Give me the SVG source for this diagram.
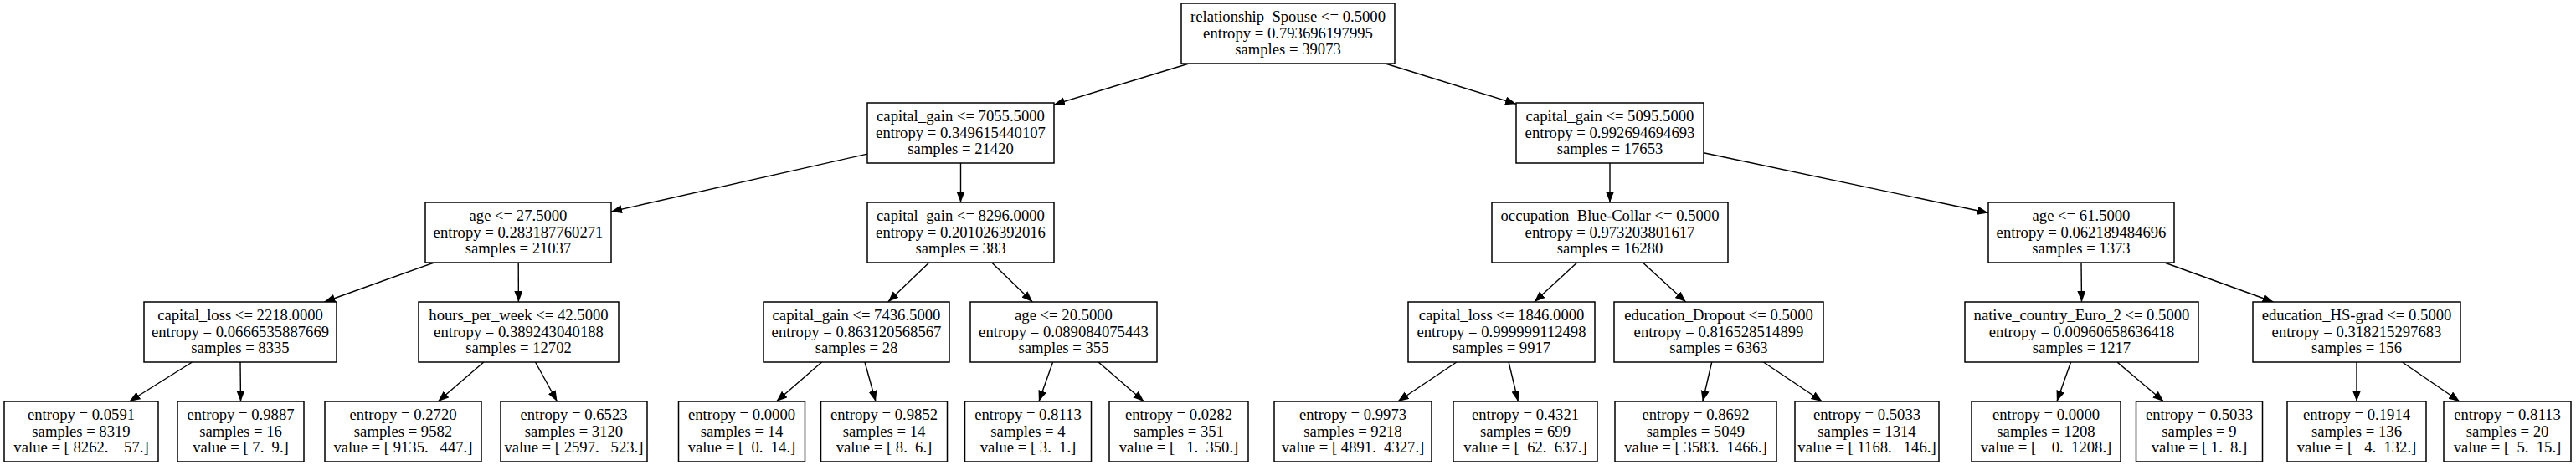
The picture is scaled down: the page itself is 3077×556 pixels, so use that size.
<svg xmlns="http://www.w3.org/2000/svg" width="3077" height="556" viewBox="0 0 3077 556">
<style>
.node rect{fill:#fff;stroke:#000;stroke-width:1.5}
.node text{font-family:"Liberation Serif","Times New Roman",serif;font-size:18.67px;fill:#000;text-anchor:middle;white-space:pre}
#edges line{stroke:#000;stroke-width:1.4;marker-end:url(#arr)}
</style>
<defs>
<marker id="arr" markerUnits="userSpaceOnUse" markerWidth="14" markerHeight="11" refX="13" refY="5" orient="auto">
<path d="M0,0 L13,5 L0,10 z" fill="#000"/>
</marker>
</defs>
<rect width="3077" height="556" fill="#fff"/>
<g id="edges">
<line x1="1420.2" y1="76" x2="1259" y2="125.1"/>
<line x1="1654.8" y1="76" x2="1811" y2="124.3"/>
<line x1="1036" y1="184.1" x2="730" y2="253"/>
<line x1="1147.5" y1="195" x2="1147.5" y2="242"/>
<line x1="1923" y1="195" x2="1923" y2="242"/>
<line x1="2035" y1="182.7" x2="2375" y2="254.5"/>
<line x1="518.6" y1="314" x2="387.4" y2="361"/>
<line x1="619.2" y1="314" x2="619.4" y2="361"/>
<line x1="1109.8" y1="314" x2="1060.7" y2="361"/>
<line x1="1184.7" y1="314" x2="1233.3" y2="361"/>
<line x1="1883.8" y1="314" x2="1832.7" y2="361"/>
<line x1="1962.3" y1="314" x2="2013.7" y2="361"/>
<line x1="2486" y1="314" x2="2486.5" y2="361"/>
<line x1="2585.5" y1="314" x2="2715.5" y2="361"/>
<line x1="229.5" y1="433" x2="154.5" y2="480"/>
<line x1="287" y1="433" x2="287.5" y2="480"/>
<line x1="577.8" y1="433" x2="523.2" y2="480"/>
<line x1="639.5" y1="433" x2="665.5" y2="480"/>
<line x1="981.6" y1="433" x2="927.4" y2="480"/>
<line x1="1033" y1="433" x2="1046" y2="480"/>
<line x1="1257.6" y1="433" x2="1240.9" y2="480"/>
<line x1="1312.1" y1="433" x2="1366.4" y2="480"/>
<line x1="1739.8" y1="433" x2="1669.7" y2="480"/>
<line x1="1802.1" y1="433" x2="1813.4" y2="480"/>
<line x1="2044.7" y1="433" x2="2033.8" y2="480"/>
<line x1="2106.5" y1="433" x2="2176.5" y2="480"/>
<line x1="2473.6" y1="433" x2="2456.9" y2="480"/>
<line x1="2529" y1="433" x2="2584.5" y2="480"/>
<line x1="2815" y1="433" x2="2815" y2="480"/>
<line x1="2869.5" y1="433" x2="2938" y2="480"/>
</g>
<g id="n0" class="node"><rect x="1411" y="4" width="255" height="72"/><text x="1538.5" y="26">relationship_Spouse &lt;= 0.5000</text><text x="1538.5" y="45.5">entropy = 0.793696197995</text><text x="1538.5" y="65">samples = 39073</text></g>
<g id="n1" class="node"><rect x="1036" y="123" width="223" height="72"/><text x="1147.5" y="145">capital_gain &lt;= 7055.5000</text><text x="1147.5" y="164.5">entropy = 0.349615440107</text><text x="1147.5" y="184">samples = 21420</text></g>
<g id="n2" class="node"><rect x="1811" y="123" width="224" height="72"/><text x="1923" y="145">capital_gain &lt;= 5095.5000</text><text x="1923" y="164.5">entropy = 0.992694694693</text><text x="1923" y="184">samples = 17653</text></g>
<g id="n3" class="node"><rect x="508" y="242" width="222" height="72"/><text x="619" y="264">age &lt;= 27.5000</text><text x="619" y="283.5">entropy = 0.283187760271</text><text x="619" y="303">samples = 21037</text></g>
<g id="n4" class="node"><rect x="1036" y="242" width="223" height="72"/><text x="1147.5" y="264">capital_gain &lt;= 8296.0000</text><text x="1147.5" y="283.5">entropy = 0.201026392016</text><text x="1147.5" y="303">samples = 383</text></g>
<g id="n5" class="node"><rect x="1782" y="242" width="282" height="72"/><text x="1923" y="264">occupation_Blue-Collar &lt;= 0.5000</text><text x="1923" y="283.5">entropy = 0.973203801617</text><text x="1923" y="303">samples = 16280</text></g>
<g id="n6" class="node"><rect x="2375" y="242" width="222" height="72"/><text x="2486" y="264">age &lt;= 61.5000</text><text x="2486" y="283.5">entropy = 0.062189484696</text><text x="2486" y="303">samples = 1373</text></g>
<g id="n7" class="node"><rect x="172" y="361" width="230" height="72"/><text x="287" y="383">capital_loss &lt;= 2218.0000</text><text x="287" y="402.5">entropy = 0.0666535887669</text><text x="287" y="422">samples = 8335</text></g>
<g id="n8" class="node"><rect x="500" y="361" width="239" height="72"/><text x="619.5" y="383">hours_per_week &lt;= 42.5000</text><text x="619.5" y="402.5">entropy = 0.389243040188</text><text x="619.5" y="422">samples = 12702</text></g>
<g id="n9" class="node"><rect x="912" y="361" width="222" height="72"/><text x="1023" y="383">capital_gain &lt;= 7436.5000</text><text x="1023" y="402.5">entropy = 0.863120568567</text><text x="1023" y="422">samples = 28</text></g>
<g id="n10" class="node"><rect x="1159" y="361" width="223" height="72"/><text x="1270.5" y="383">age &lt;= 20.5000</text><text x="1270.5" y="402.5">entropy = 0.089084075443</text><text x="1270.5" y="422">samples = 355</text></g>
<g id="n11" class="node"><rect x="1682" y="361" width="223" height="72"/><text x="1793.5" y="383">capital_loss &lt;= 1846.0000</text><text x="1793.5" y="402.5">entropy = 0.999999112498</text><text x="1793.5" y="422">samples = 9917</text></g>
<g id="n12" class="node"><rect x="1928" y="361" width="250" height="72"/><text x="2053" y="383">education_Dropout &lt;= 0.5000</text><text x="2053" y="402.5">entropy = 0.816528514899</text><text x="2053" y="422">samples = 6363</text></g>
<g id="n13" class="node"><rect x="2347" y="361" width="279" height="72"/><text x="2486.5" y="383">native_country_Euro_2 &lt;= 0.5000</text><text x="2486.5" y="402.5">entropy = 0.00960658636418</text><text x="2486.5" y="422">samples = 1217</text></g>
<g id="n14" class="node"><rect x="2691" y="361" width="248" height="72"/><text x="2815" y="383">education_HS-grad &lt;= 0.5000</text><text x="2815" y="402.5">entropy = 0.318215297683</text><text x="2815" y="422">samples = 156</text></g>
<g id="n15" class="node"><rect x="5" y="480" width="184" height="72"/><text x="97" y="502">entropy = 0.0591</text><text x="97" y="521.5">samples = 8319</text><text x="97" y="541" xml:space="preserve">value = [ 8262.    57.]</text></g>
<g id="n16" class="node"><rect x="212" y="480" width="151" height="72"/><text x="287.5" y="502">entropy = 0.9887</text><text x="287.5" y="521.5">samples = 16</text><text x="287.5" y="541" xml:space="preserve">value = [ 7.  9.]</text></g>
<g id="n17" class="node"><rect x="388" y="480" width="187" height="72"/><text x="481.5" y="502">entropy = 0.2720</text><text x="481.5" y="521.5">samples = 9582</text><text x="481.5" y="541" xml:space="preserve">value = [ 9135.   447.]</text></g>
<g id="n18" class="node"><rect x="598" y="480" width="175" height="72"/><text x="685.5" y="502">entropy = 0.6523</text><text x="685.5" y="521.5">samples = 3120</text><text x="685.5" y="541" xml:space="preserve">value = [ 2597.   523.]</text></g>
<g id="n19" class="node"><rect x="810.5" y="480" width="151" height="72"/><text x="886" y="502">entropy = 0.0000</text><text x="886" y="521.5">samples = 14</text><text x="886" y="541" xml:space="preserve">value = [  0.  14.]</text></g>
<g id="n20" class="node"><rect x="980.5" y="480" width="151" height="72"/><text x="1056" y="502">entropy = 0.9852</text><text x="1056" y="521.5">samples = 14</text><text x="1056" y="541" xml:space="preserve">value = [ 8.  6.]</text></g>
<g id="n21" class="node"><rect x="1152.5" y="480" width="151" height="72"/><text x="1228" y="502">entropy = 0.8113</text><text x="1228" y="521.5">samples = 4</text><text x="1228" y="541" xml:space="preserve">value = [ 3.  1.]</text></g>
<g id="n22" class="node"><rect x="1325" y="480" width="166" height="72"/><text x="1408" y="502">entropy = 0.0282</text><text x="1408" y="521.5">samples = 351</text><text x="1408" y="541" xml:space="preserve">value = [   1.  350.]</text></g>
<g id="n23" class="node"><rect x="1522" y="480" width="188" height="72"/><text x="1616" y="502">entropy = 0.9973</text><text x="1616" y="521.5">samples = 9218</text><text x="1616" y="541" xml:space="preserve">value = [ 4891.  4327.]</text></g>
<g id="n24" class="node"><rect x="1736" y="480" width="172" height="72"/><text x="1822" y="502">entropy = 0.4321</text><text x="1822" y="521.5">samples = 699</text><text x="1822" y="541" xml:space="preserve">value = [  62.  637.]</text></g>
<g id="n25" class="node"><rect x="1929" y="480" width="193" height="72"/><text x="2025.5" y="502">entropy = 0.8692</text><text x="2025.5" y="521.5">samples = 5049</text><text x="2025.5" y="541" xml:space="preserve">value = [ 3583.  1466.]</text></g>
<g id="n26" class="node"><rect x="2144" y="480" width="172" height="72"/><text x="2230" y="502">entropy = 0.5033</text><text x="2230" y="521.5">samples = 1314</text><text x="2230" y="541" xml:space="preserve">value = [ 1168.   146.]</text></g>
<g id="n27" class="node"><rect x="2355" y="480" width="178" height="72"/><text x="2444" y="502">entropy = 0.0000</text><text x="2444" y="521.5">samples = 1208</text><text x="2444" y="541" xml:space="preserve">value = [    0.  1208.]</text></g>
<g id="n28" class="node"><rect x="2551.5" y="480" width="151" height="72"/><text x="2627" y="502">entropy = 0.5033</text><text x="2627" y="521.5">samples = 9</text><text x="2627" y="541" xml:space="preserve">value = [ 1.  8.]</text></g>
<g id="n29" class="node"><rect x="2732" y="480" width="166" height="72"/><text x="2815" y="502">entropy = 0.1914</text><text x="2815" y="521.5">samples = 136</text><text x="2815" y="541" xml:space="preserve">value = [   4.  132.]</text></g>
<g id="n30" class="node"><rect x="2919" y="480" width="152" height="72"/><text x="2995" y="502">entropy = 0.8113</text><text x="2995" y="521.5">samples = 20</text><text x="2995" y="541" xml:space="preserve">value = [  5.  15.]</text></g>
</svg>
